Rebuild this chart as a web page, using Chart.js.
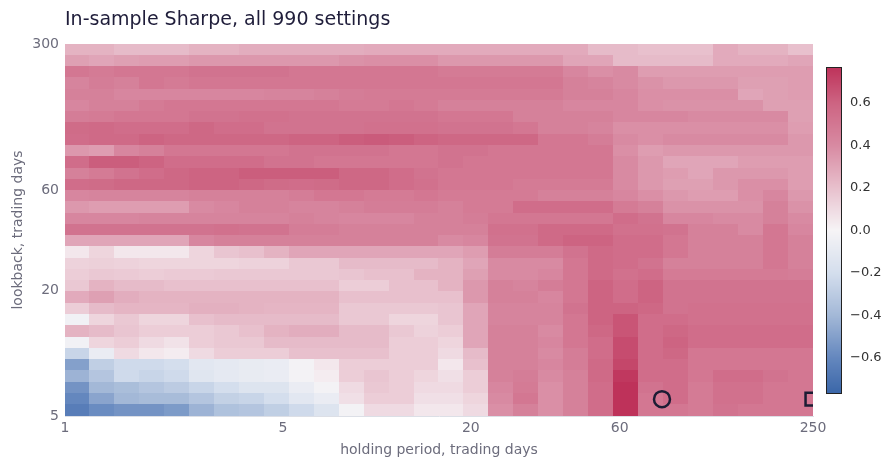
<!DOCTYPE html>
<html><head><meta charset="utf-8">
<script src="https://cdn.jsdelivr.net/npm/chart.js@4.4.1/dist/chart.umd.min.js"></script>
<style>
html,body{margin:0;padding:0;background:#fff;}
#wrap{position:relative;width:892px;height:469px;}
#main{position:absolute;left:0;top:0;}
#cbar{position:absolute;left:800px;top:0;}
</style></head><body>
<div id="wrap"><canvas id="main" width="892" height="469"></canvas><canvas id="cbar" width="92" height="469"></canvas></div>
<script>
const titleText = "In-sample Sharpe, all 990 settings";
// holding period cell centres (trading days), log spaced 1..250
const holdings = [1.096,1.318,1.584,1.904,2.289,2.751,3.307,3.976,4.779,5.745,6.906,8.30,9.98,12.0,14.42,17.33,20.84,25.05,30.11,36.2,43.5,52.3,62.9,75.6,90.9,109.2,131.3,157.8,189.7,228.1];
// lookback cell centres, top row first (300 -> 5)
const lookbacks = [281.9,249.0,219.9,194.3,171.6,151.6,133.9,118.3,104.5,92.3,81.52,72.01,63.61,56.19,49.63,43.84,38.73,34.21,30.22,26.69,23.58,20.83,18.40,16.25,14.35,12.68,11.20,9.89,8.74,7.72,6.82,6.02,5.32];
const xTicks = [1,5,20,60,250];
const yTicks = [5,20,60,300];
const cbarTicks = [-0.6,-0.4,-0.2,0,0.2,0.4,0.6];
const bestPoint = [{x:82,y:6.02}];
const refPoint = [{x:248,y:6.02}];
// Sharpe grid, rows top (lookback 300) to bottom (lookback 5), columns holding 1 -> 250
const sharpe = [
[0.25,0.25,0.22,0.22,0.22,0.25,0.25,0.27,0.27,0.27,0.27,0.27,0.28,0.28,0.28,0.28,0.28,0.28,0.28,0.28,0.28,0.22,0.22,0.2,0.2,0.2,0.28,0.25,0.25,0.2],
[0.32,0.3,0.32,0.33,0.33,0.35,0.35,0.35,0.35,0.35,0.35,0.37,0.38,0.38,0.38,0.35,0.35,0.35,0.35,0.35,0.3,0.3,0.22,0.22,0.22,0.22,0.28,0.28,0.28,0.3],
[0.5,0.48,0.5,0.5,0.5,0.52,0.52,0.52,0.52,0.5,0.5,0.5,0.5,0.5,0.5,0.48,0.48,0.48,0.48,0.48,0.42,0.38,0.4,0.33,0.33,0.33,0.33,0.33,0.33,0.33],
[0.43,0.47,0.45,0.5,0.48,0.5,0.5,0.5,0.5,0.5,0.5,0.5,0.5,0.5,0.5,0.5,0.5,0.5,0.5,0.5,0.45,0.43,0.4,0.37,0.35,0.35,0.35,0.32,0.32,0.33],
[0.45,0.45,0.42,0.42,0.42,0.42,0.42,0.42,0.43,0.43,0.45,0.47,0.48,0.48,0.48,0.48,0.48,0.48,0.48,0.48,0.45,0.45,0.42,0.38,0.38,0.38,0.38,0.3,0.32,0.33],
[0.42,0.45,0.45,0.48,0.5,0.5,0.5,0.5,0.5,0.5,0.5,0.48,0.48,0.5,0.48,0.45,0.45,0.45,0.45,0.45,0.42,0.42,0.42,0.38,0.37,0.37,0.37,0.37,0.32,0.32],
[0.47,0.48,0.5,0.5,0.5,0.52,0.52,0.53,0.53,0.52,0.52,0.52,0.52,0.52,0.52,0.5,0.5,0.5,0.45,0.45,0.45,0.45,0.42,0.42,0.42,0.4,0.4,0.4,0.4,0.32],
[0.56,0.57,0.55,0.55,0.55,0.58,0.55,0.55,0.52,0.52,0.52,0.52,0.53,0.53,0.53,0.52,0.52,0.52,0.5,0.45,0.45,0.43,0.38,0.38,0.38,0.38,0.38,0.38,0.38,0.33],
[0.55,0.57,0.57,0.6,0.58,0.58,0.58,0.58,0.58,0.6,0.6,0.62,0.63,0.62,0.6,0.58,0.58,0.58,0.58,0.5,0.5,0.47,0.4,0.38,0.4,0.4,0.4,0.4,0.4,0.35],
[0.35,0.33,0.42,0.45,0.5,0.5,0.5,0.5,0.5,0.52,0.52,0.52,0.52,0.5,0.5,0.52,0.52,0.5,0.5,0.5,0.5,0.5,0.38,0.33,0.35,0.35,0.35,0.35,0.35,0.35],
[0.55,0.62,0.62,0.6,0.55,0.55,0.55,0.55,0.52,0.52,0.5,0.5,0.5,0.5,0.5,0.52,0.5,0.5,0.5,0.5,0.5,0.5,0.4,0.35,0.3,0.3,0.3,0.33,0.33,0.33],
[0.45,0.48,0.52,0.55,0.58,0.6,0.6,0.62,0.62,0.62,0.62,0.58,0.58,0.55,0.52,0.5,0.5,0.5,0.5,0.5,0.5,0.5,0.4,0.35,0.33,0.3,0.35,0.35,0.35,0.33],
[0.55,0.56,0.58,0.58,0.58,0.6,0.6,0.58,0.56,0.55,0.56,0.58,0.58,0.55,0.53,0.5,0.5,0.5,0.48,0.48,0.48,0.48,0.4,0.35,0.32,0.32,0.35,0.38,0.38,0.33],
[0.42,0.43,0.43,0.43,0.43,0.45,0.45,0.45,0.45,0.47,0.5,0.5,0.48,0.48,0.5,0.48,0.48,0.48,0.48,0.45,0.45,0.45,0.42,0.38,0.35,0.33,0.33,0.38,0.42,0.35],
[0.35,0.33,0.33,0.33,0.33,0.4,0.42,0.45,0.45,0.43,0.43,0.45,0.47,0.47,0.47,0.45,0.48,0.48,0.55,0.55,0.55,0.55,0.48,0.45,0.37,0.37,0.37,0.37,0.45,0.37],
[0.42,0.42,0.42,0.43,0.43,0.43,0.43,0.43,0.43,0.45,0.43,0.42,0.42,0.42,0.45,0.45,0.47,0.5,0.5,0.5,0.5,0.5,0.55,0.52,0.42,0.42,0.4,0.4,0.45,0.4],
[0.52,0.52,0.52,0.52,0.52,0.52,0.53,0.52,0.52,0.47,0.47,0.45,0.45,0.45,0.45,0.45,0.45,0.53,0.53,0.57,0.57,0.57,0.53,0.53,0.52,0.45,0.45,0.4,0.5,0.42],
[0.3,0.3,0.3,0.3,0.3,0.42,0.45,0.45,0.45,0.45,0.45,0.45,0.45,0.45,0.45,0.4,0.42,0.52,0.52,0.57,0.6,0.6,0.55,0.55,0.5,0.45,0.45,0.45,0.5,0.45],
[0.05,0.12,0.05,0.05,0.05,0.12,0.18,0.2,0.25,0.3,0.3,0.3,0.3,0.3,0.3,0.3,0.33,0.47,0.47,0.47,0.52,0.57,0.55,0.55,0.5,0.45,0.45,0.45,0.5,0.45],
[0.13,0.14,0.13,0.12,0.12,0.12,0.12,0.13,0.13,0.17,0.17,0.22,0.22,0.22,0.22,0.25,0.3,0.4,0.4,0.4,0.5,0.57,0.55,0.52,0.45,0.45,0.45,0.45,0.5,0.45],
[0.15,0.17,0.16,0.15,0.16,0.16,0.17,0.17,0.17,0.17,0.17,0.18,0.2,0.2,0.25,0.25,0.32,0.4,0.4,0.42,0.5,0.57,0.53,0.55,0.48,0.48,0.48,0.48,0.48,0.47],
[0.17,0.25,0.22,0.22,0.2,0.2,0.2,0.2,0.2,0.2,0.2,0.15,0.15,0.2,0.2,0.25,0.35,0.45,0.43,0.47,0.5,0.6,0.55,0.6,0.52,0.52,0.52,0.52,0.52,0.52],
[0.28,0.32,0.27,0.25,0.25,0.25,0.25,0.25,0.25,0.25,0.25,0.2,0.2,0.2,0.2,0.2,0.35,0.45,0.45,0.42,0.5,0.6,0.55,0.6,0.52,0.52,0.52,0.52,0.52,0.52],
[0.15,0.22,0.24,0.24,0.24,0.26,0.26,0.25,0.24,0.24,0.24,0.17,0.17,0.17,0.17,0.18,0.3,0.43,0.43,0.43,0.52,0.6,0.6,0.58,0.52,0.53,0.53,0.53,0.53,0.53],
[-0.03,0.12,0.17,0.12,0.12,0.2,0.22,0.22,0.22,0.22,0.22,0.17,0.17,0.12,0.12,0.18,0.3,0.43,0.43,0.43,0.5,0.6,0.65,0.55,0.55,0.53,0.53,0.53,0.53,0.53],
[0.25,0.22,0.18,0.15,0.15,0.15,0.17,0.2,0.25,0.27,0.27,0.22,0.22,0.17,0.13,0.15,0.3,0.45,0.45,0.4,0.5,0.58,0.65,0.55,0.58,0.55,0.55,0.55,0.55,0.55],
[-0.03,0.12,0.15,0.1,0.07,0.15,0.17,0.17,0.22,0.22,0.22,0.22,0.22,0.15,0.15,0.12,0.3,0.45,0.45,0.42,0.5,0.55,0.68,0.55,0.6,0.55,0.55,0.55,0.55,0.55],
[-0.25,-0.07,0.1,0.05,0.03,0.1,0.15,0.15,0.15,0.2,0.2,0.2,0.2,0.15,0.15,0.1,0.22,0.45,0.45,0.4,0.47,0.55,0.68,0.55,0.58,0.5,0.5,0.5,0.5,0.5],
[-0.5,-0.28,-0.22,-0.22,-0.2,-0.12,-0.1,-0.08,-0.07,-0.02,0.05,0.15,0.15,0.15,0.15,0.05,0.2,0.45,0.45,0.42,0.47,0.57,0.7,0.55,0.55,0.5,0.5,0.5,0.5,0.5],
[-0.42,-0.33,-0.22,-0.25,-0.22,-0.13,-0.1,-0.08,-0.07,-0.02,0.03,0.15,0.18,0.15,0.12,0.08,0.15,0.45,0.47,0.4,0.45,0.57,0.75,0.55,0.55,0.5,0.55,0.55,0.52,0.5],
[-0.55,-0.4,-0.37,-0.33,-0.3,-0.25,-0.2,-0.15,-0.15,-0.07,-0.02,0.1,0.17,0.15,0.1,0.1,0.15,0.42,0.48,0.38,0.45,0.55,0.77,0.52,0.55,0.48,0.53,0.53,0.5,0.5],
[-0.6,-0.48,-0.4,-0.38,-0.38,-0.33,-0.27,-0.25,-0.2,-0.12,-0.07,0.08,0.15,0.15,0.08,0.08,0.12,0.4,0.5,0.38,0.45,0.55,0.77,0.5,0.55,0.48,0.53,0.53,0.5,0.5],
[-0.65,-0.58,-0.55,-0.55,-0.52,-0.42,-0.35,-0.33,-0.28,-0.22,-0.15,-0.02,0.1,0.1,0.05,0.05,0.1,0.38,0.45,0.38,0.45,0.55,0.77,0.5,0.5,0.48,0.52,0.5,0.5,0.5]
];
const VMAX = 0.77;
const stops = [
 [-0.77,[58,102,168]],[-0.6,[100,135,190]],[-0.4,[163,184,215]],[-0.2,[212,222,237]],
 [0,[246,244,246]],[0.2,[232,192,205]],[0.4,[216,138,162]],[0.6,[205,100,130]],[0.77,[190,50,90]]
];
function colorFor(v){
  if(v<=stops[0][0]) return 'rgb('+stops[0][1].join(',')+')';
  for(let i=1;i<stops.length;i++){
    if(v<=stops[i][0]){
      const [a,ca]=stops[i-1],[b,cb]=stops[i];const t=(v-a)/(b-a);
      return 'rgb('+ca.map((c,k)=>Math.round(c+(cb[k]-c)*t)).join(',')+')';
    }
  }
  return 'rgb('+stops[stops.length-1][1].join(',')+')';
}
const HX = Math.sqrt(holdings[1]/holdings[0]);
const HY = Math.sqrt(lookbacks[0]/lookbacks[1]);
const heatmap = {
  id:'heatmap',
  beforeDatasetsDraw(chart){
    const {ctx,scales:{x,y},chartArea:a}=chart;
    ctx.save();ctx.beginPath();ctx.rect(a.left,a.top,a.right-a.left,a.bottom-a.top);ctx.clip();
    sharpe.forEach((row,i)=>row.forEach((v,j)=>{
      const x0=x.getPixelForValue(holdings[j]/HX),x1=x.getPixelForValue(holdings[j]*HX);
      const y0=y.getPixelForValue(lookbacks[i]*HY),y1=y.getPixelForValue(lookbacks[i]/HY);
      ctx.fillStyle=colorFor(v);
      ctx.fillRect(Math.floor(x0),Math.floor(y0),Math.ceil(x1)-Math.floor(x0)+0.5,Math.ceil(y1)-Math.floor(y0)+0.5);
    }));
    ctx.restore();
  },
  afterDraw(chart){
    const ctx=chart.ctx;ctx.save();
    ctx.font='19px "DejaVu Sans", sans-serif';ctx.fillStyle='#1f1d3a';ctx.textBaseline='middle';
    ctx.fillText(titleText,65,20);ctx.restore();
  }
};
const grey='#6c6c7c';
const tickFont={family:'"DejaVu Sans", sans-serif',size:14};
new Chart(document.getElementById('main'),{
  type:'scatter',
  data:{datasets:[
    {data:bestPoint,pointStyle:'circle',pointRadius:8,borderWidth:2.5,borderColor:'#1c1c34',backgroundColor:'rgba(0,0,0,0)'},
    {data:refPoint,pointStyle:'rect',pointRadius:9,borderWidth:2.5,borderColor:'#1c1c34',backgroundColor:'rgba(0,0,0,0)'}
  ]},
  options:{
    responsive:false,animation:false,
    layout:{padding:{top:44,right:79,left:6,bottom:0}},
    plugins:{legend:{display:false},tooltip:{enabled:false}},
    scales:{
      x:{type:'logarithmic',min:1,max:250,
        afterBuildTicks:s=>{s.ticks=xTicks.map(v=>({value:v}));},
        afterFit:s=>{s.height=53;},
        grid:{display:false,drawTicks:false},border:{color:'#dcdfe6'},
        ticks:{color:grey,font:tickFont,padding:4,callback:v=>String(v),maxRotation:0,autoSkip:false},
        title:{display:true,text:'holding period, trading days',color:grey,font:tickFont,padding:{top:0,bottom:10}}},
      y:{type:'logarithmic',min:5,max:300,
        afterBuildTicks:s=>{s.ticks=yTicks.map(v=>({value:v}));},
        afterFit:s=>{s.width=59;},
        grid:{display:false,drawTicks:false},border:{color:'#dcdfe6'},
        ticks:{color:grey,font:tickFont,padding:6,callback:v=>String(v),autoSkip:false},
        title:{display:true,text:'lookback, trading days',color:grey,font:tickFont,padding:{top:4,bottom:0}}}
    }
  },
  plugins:[heatmap]
});
const cbarPlugin={
  id:'cbar',
  beforeDatasetsDraw(chart){
    const {ctx,scales:{y},chartArea:a}=chart;
    for(let p=Math.floor(a.top);p<Math.ceil(a.bottom);p++){
      ctx.fillStyle=colorFor(y.getValueForPixel(p+0.5));ctx.fillRect(a.left,p,a.right-a.left,1);
    }
    ctx.strokeStyle='#222';ctx.lineWidth=1;ctx.strokeRect(a.left+0.5,a.top+0.5,a.right-a.left-1,a.bottom-a.top-1);
  }
};
new Chart(document.getElementById('cbar'),{
  type:'scatter',data:{datasets:[{data:[]}]},
  options:{responsive:false,animation:false,
    layout:{padding:{top:67,bottom:75,left:26,right:0}},
    plugins:{legend:{display:false},tooltip:{enabled:false}},
    scales:{
      x:{display:false,min:0,max:1},
      y:{position:'right',min:-VMAX,max:VMAX,
        afterBuildTicks:s=>{s.ticks=cbarTicks.map(v=>({value:v}));},
        afterFit:s=>{s.width=50;},
        grid:{display:false,drawOnChartArea:false,drawTicks:true,tickLength:4,color:'#333'},border:{display:false},
        ticks:{color:'#333',font:{family:'"DejaVu Sans", sans-serif',size:13},padding:4,
          callback:v=>(v<0?'\u2212':'')+Math.abs(v).toFixed(1)}}
    }},
  plugins:[cbarPlugin]
});
</script></body></html>
